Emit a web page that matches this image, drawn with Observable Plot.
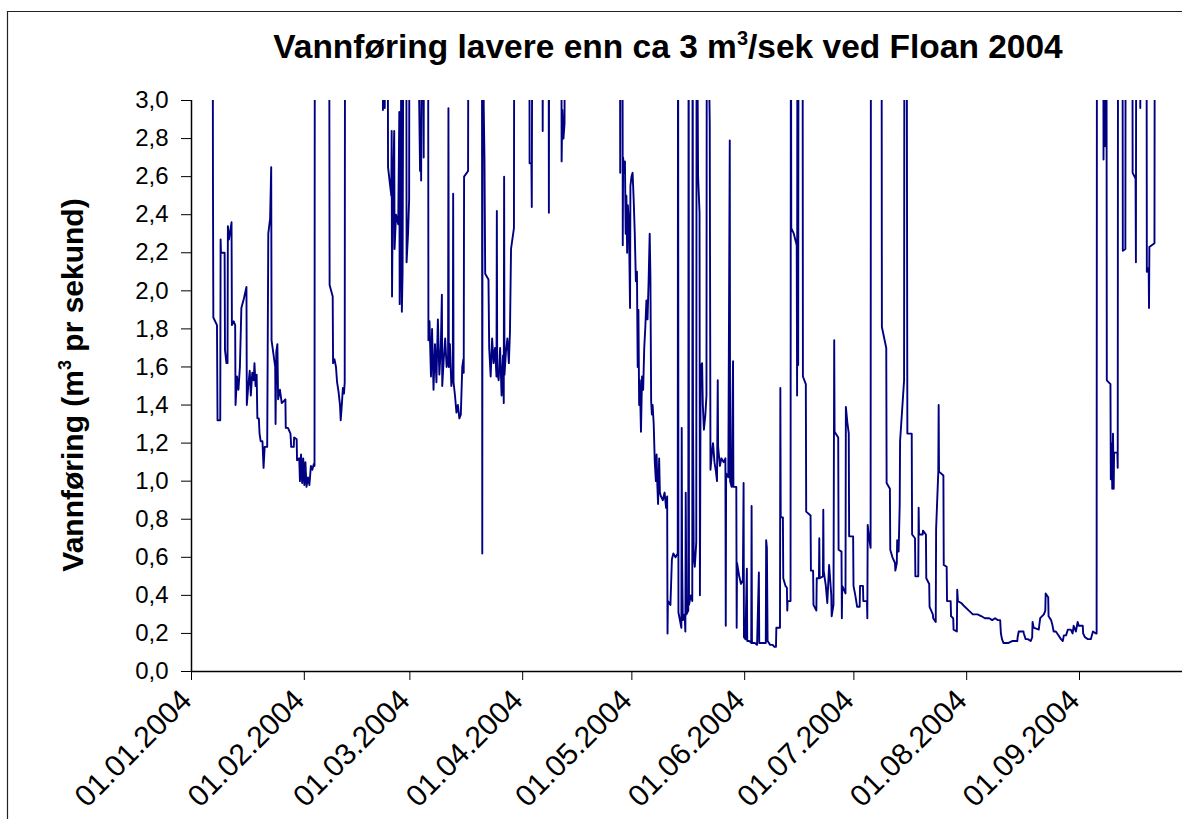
<!DOCTYPE html>
<html>
<head>
<meta charset="utf-8">
<script src="https://cdn.jsdelivr.net/npm/d3@7"></script>
<script src="https://cdn.jsdelivr.net/npm/@observablehq/plot@0.6"></script>
<style>
  html, body { margin: 0; padding: 0; background: #fff; }
  #wrap { position: relative; width: 1182px; height: 819px; overflow: hidden; background: #fff; }
  #wrap > svg { position: absolute; left: 0; top: 0; }
  #overlay { pointer-events: none; }
</style>
</head>
<body>
<div id="wrap"></div>
<script>
// ---- data (day offset from 01.01.2004, flow in m3/s; values above 3 are clipped) ----
const days = [
  0, 5.8, 5.9, 6.0, 7.0, 7.15, 7.9, 8.0, 8.1, 9.1, 9.2, 9.6, 9.9, 10.0, 10.3, 11.0, 11.1, 11.6, 12.0, 12.1,
  12.5, 12.9, 13.3, 13.7, 14.4, 15.1, 15.2, 15.6, 16.0, 16.3, 16.7, 17.1, 17.3, 17.6, 17.9, 18.1, 18.5, 18.7, 19.0, 19.5,
  19.8, 20.1, 20.8, 21.1, 21.6, 21.9, 22.0, 23.0, 23.1, 23.3, 23.6, 23.8, 24.3, 24.8, 25.8, 25.9, 26.5, 27.2, 27.4, 28.1,
  28.2, 28.9, 29.0, 29.6, 29.8, 30.1, 30.4, 30.7, 31.0, 31.3, 31.6, 32.0, 32.4, 32.8, 33.2, 33.6, 33.8, 33.9,
  37.8, 37.95, 38.8, 38.9, 39.3, 39.7, 40.0, 40.4, 40.8, 41.0, 41.3, 41.6, 41.9, 42.1, 42.2,
  52.5, 52.6, 52.7, 53.0, 53.1, 53.2, 53.9, 54.0, 54.6, 54.9, 55.0, 55.1, 55.3, 55.7, 55.8, 56.2, 56.8, 57.1, 57.2, 57.5,
  57.7, 57.8, 58.0, 58.3, 59.0, 59.1, 59.5, 59.8, 59.9, 61.9, 62.8, 63.0, 63.1, 63.3, 63.8, 63.9,
  65.0, 65.1, 65.4, 65.8, 66.1, 66.5, 66.9, 67.3, 67.7, 68.1, 68.5, 68.8, 68.9, 69.3, 69.7, 70.1, 70.5, 70.6, 70.7, 71.0,
  71.4, 71.8, 71.9, 72.0, 72.4, 72.8, 73.2, 73.6, 74.0, 74.4, 74.7, 74.8, 74.9, 76.0, 76.1,
  79.8, 79.9, 80.0, 80.3, 80.5, 80.7, 81.6, 81.8, 82.2, 82.6, 83.0, 83.4, 83.8, 83.9, 84.0, 84.4, 84.8, 85.2, 85.6, 85.8,
  85.9, 86.0, 86.4, 86.8, 87.2, 87.5, 87.8, 88.6, 88.7,
  92.8, 92.9, 93.4, 93.5, 93.7, 96.4, 96.5, 96.6, 98.1, 98.2, 98.3, 101.6, 101.7, 101.9, 102.2, 102.5, 102.6,
  117.7, 117.8, 117.9, 118.4, 118.5, 118.6, 118.9, 119.1, 119.3, 119.5, 119.7, 119.9, 120.2, 120.5, 120.6, 120.9, 121.2, 121.5, 121.8, 122.1,
  122.4, 122.6, 122.8, 123.0, 123.2, 123.5, 123.8, 124.1, 124.4, 124.7, 125.0, 125.3, 125.6, 125.9, 126.1, 126.3, 126.5, 126.7, 127.0, 127.3,
  127.6, 127.8, 128.0, 128.2, 128.5, 128.7, 129.0, 129.5, 130.0, 130.4, 130.7, 130.8, 130.9, 131.6, 132.0, 132.4, 133.0, 133.6, 133.7, 133.8,
  134.6, 134.7, 134.8, 135.0, 135.5, 135.7, 135.8, 136.0, 136.5, 136.6, 136.7, 137.2, 137.6, 137.7, 137.8, 138.0, 138.3, 138.7, 138.8, 139.2,
  139.6, 139.7, 139.9, 140.3, 140.5, 140.8, 141.2, 141.5, 141.6, 142.4, 142.6, 143.0, 143.3, 143.7, 144.1, 144.4, 144.6, 144.7, 145.2, 145.6,
  146.2, 146.7, 146.8, 146.9, 147.5, 147.9, 148.0, 148.4, 148.8, 148.9, 149.7, 149.8, 149.9, 150.5, 151.0, 151.5, 151.7, 151.8, 152.2, 152.6,
  152.7, 153.3, 153.8, 153.9, 154.0, 154.8, 155.4, 155.9, 156.0, 157.0, 157.8, 157.9, 158.1, 158.3, 159.0, 159.7, 160.1, 160.6, 160.7, 161.7,
  161.8, 161.9, 162.5, 162.6, 163.2, 163.6, 163.7, 163.8, 164.6, 164.7, 164.8, 165.5, 166.3, 166.4, 166.5, 166.7, 166.8, 167.9, 168.0, 168.8,
  168.9, 170.1, 170.2, 170.8, 170.9, 171.7, 171.8, 172.4, 172.5, 172.6, 173.5, 173.6, 173.7, 174.3, 174.7, 175.2, 175.8, 175.9, 176.4, 176.6,
  176.7, 177.7, 177.8, 178.6, 178.7, 178.8, 179.7, 179.8, 180.2, 180.6, 180.7, 181.8, 181.9, 182.4, 182.9, 183.6, 183.7, 184.5, 184.6, 185.6,
  185.7, 185.8, 186.2, 186.6, 186.7,
  189.6, 189.7, 190.9, 191.0, 191.9, 192.0, 192.6, 193.3, 193.4, 193.8, 193.9, 194.3, 194.6, 194.7, 195.8, 195.9, 196.5, 196.6, 196.7, 197.9,
  198.0, 198.8, 198.9, 199.7, 199.8, 199.9, 200.9, 201.0, 201.8, 201.9, 202.7, 202.8, 203.7, 203.8, 204.5, 204.6, 205.2, 205.3, 205.4, 206.6,
  206.7, 207.5, 207.6, 208.6, 208.7, 209.3, 209.4, 210.3, 210.4, 210.6, 211.5, 212.5, 213.6, 214.7, 216.0, 217.1, 218.0, 219.2, 220.0, 220.8,
  221.5, 222.2, 222.4, 222.7, 223.1, 224.5, 225.5, 226.9, 227.0, 227.3, 228.6, 228.7, 229.2, 229.8, 230.6, 231.0, 231.1, 231.4, 232.8, 233.2,
  234.2, 234.6, 234.7, 235.4, 235.5, 236.2, 236.6, 236.9, 237.5, 238.2, 238.9, 239.4, 239.7, 240.3, 240.8, 241.6, 242.1, 242.4, 243.0, 243.5,
  243.8, 244.9, 245.0, 245.5, 246.3, 247.1, 247.7, 248.5, 248.7, 248.8,
  250.5, 250.6, 250.7, 251.1, 251.3, 251.4, 251.5, 252.5, 252.6, 252.8, 253.0, 253.2, 253.4, 253.5, 254.4, 254.5, 254.6, 255.8, 255.9, 256.6,
  256.7, 258.5, 258.6, 259.4, 259.5, 259.6, 260.6, 260.7, 260.8, 262.4, 262.5, 263.0, 263.1, 263.2, 264.6, 264.7, 272.3
];
const flow = [
  4, 4, 2.56, 1.86, 1.82, 1.32, 1.32, 2.27, 2.20, 2.20, 1.69, 1.62, 1.62, 2.34, 2.27, 2.36, 1.82, 1.84, 1.82, 1.40,
  1.55, 1.48, 1.60, 1.91, 1.96, 2.02, 1.40, 1.50, 1.58, 1.45, 1.57, 1.53, 1.62, 1.50, 1.56, 1.33, 1.33, 1.25, 1.21, 1.21,
  1.07, 1.18, 1.18, 2.30, 2.38, 2.65, 1.74, 1.60, 1.30, 1.68, 1.72, 1.43, 1.48, 1.41, 1.43, 1.28, 1.28, 1.25, 1.18, 1.18,
  1.23, 1.22, 1.11, 1.12, 1.00, 1.14, 0.99, 1.12, 0.98, 1.10, 0.97, 1.02, 0.98, 1.08, 1.06, 1.09, 1.08, 4,
  4, 2.03, 1.97, 1.62, 1.64, 1.60, 1.52, 1.47, 1.40, 1.32, 1.40, 1.49, 1.46, 1.52, 4,
  4, 2.95, 4, 4, 2.96, 4, 4, 2.65, 2.55, 2.50, 2.84, 1.97, 2.45, 2.84, 2.22, 2.40, 2.35, 2.94, 1.93, 2.30,
  4, 1.89, 2.10, 4, 4, 2.15, 2.30, 2.48, 4, 4, 2.63, 2.90, 2.58, 4, 2.70, 4,
  4, 1.74, 1.84, 1.55, 1.80, 1.48, 1.72, 1.52, 1.85, 1.56, 1.70, 1.98, 1.50, 1.64, 1.75, 1.60, 1.66, 2.96, 1.60, 1.72,
  1.50, 1.58, 2.51, 1.52, 1.45, 1.36, 1.40, 1.33, 1.35, 1.60, 1.64, 1.57, 2.60, 2.63, 4,
  4, 0.62, 4, 2.96, 2.70, 2.09, 2.06, 1.70, 1.55, 1.75, 1.62, 1.70, 1.55, 2.42, 1.58, 1.53, 1.70, 1.45, 1.66, 1.41,
  2.60, 1.56, 1.68, 1.75, 1.62, 1.78, 2.22, 2.33, 4,
  4, 2.67, 2.67, 2.44, 4, 4, 2.84, 4, 4, 2.41, 4, 4, 2.68, 2.95, 2.80, 2.88, 4,
  4, 2.62, 4, 4, 2.24, 2.70, 2.62, 2.68, 2.30, 2.50, 2.20, 2.45, 2.35, 1.91, 2.55, 2.60, 2.62, 2.48, 2.30, 2.05,
  2.10, 1.60, 1.90, 1.40, 1.53, 1.26, 1.55, 1.48, 1.70, 1.81, 1.95, 1.85, 2.05, 2.30, 2.07, 1.42, 1.35, 1.40, 1.30, 1.10,
  1.00, 1.14, 0.98, 0.88, 1.12, 0.94, 0.92, 0.90, 0.94, 0.86, 0.92, 0.20, 0.37, 0.35, 0.59, 0.62, 0.60, 0.62, 4, 0.31,
  0.23, 1.28, 0.60, 0.27, 0.30, 0.21, 0.94, 0.30, 0.32, 4, 0.35, 0.40, 0.37, 4, 1.32, 0.60, 0.55, 0.68, 4, 2.60,
  2.41, 0.40, 1.60, 1.62, 1.40, 1.27, 1.35, 1.45, 4, 2.88, 1.06, 1.15, 1.20, 1.10, 1.05, 1.00, 1.53, 1.18, 1.08, 1.12,
  1.10, 1.12, 0.24, 1.04, 1.02, 2.79, 1.00, 0.97, 1.63, 0.97, 0.97, 0.23, 0.57, 0.50, 0.46, 0.48, 0.99, 0.18, 0.17, 0.54,
  0.16, 0.16, 0.15, 0.87, 0.15, 0.15, 0.14, 0.52, 0.15, 0.15, 0.15, 0.69, 0.65, 0.16, 0.14, 0.14, 0.13, 0.13, 0.23, 0.23,
  1.49, 0.81, 0.81, 0.49, 0.45, 0.44, 0.32, 0.37, 0.37, 4, 2.33, 2.30, 2.24, 1.45, 4, 1.61, 4, 4, 1.55, 1.51,
  0.84, 0.82, 0.53, 0.53, 0.35, 0.32, 0.49, 0.49, 0.70, 0.49, 0.50, 0.85, 0.53, 0.45, 0.36, 0.56, 0.40, 0.29, 0.35, 1.74,
  1.26, 1.23, 0.64, 0.63, 0.28, 0.45, 0.41, 1.39, 1.31, 1.25, 0.71, 0.71, 0.45, 0.40, 0.34, 0.34, 0.45, 0.45, 0.37, 0.37,
  0.28, 0.77, 0.70, 0.65, 4,
  4, 1.81, 1.70, 0.99, 0.96, 0.64, 0.60, 0.57, 0.53, 0.57, 0.69, 0.63, 0.88, 1.21, 1.53, 4, 4, 2.51, 1.25, 1.25,
  0.72, 0.70, 0.50, 0.50, 0.86, 0.72, 0.72, 0.74, 0.72, 0.49, 0.46, 0.34, 0.30, 0.28, 0.26, 0.75, 1.05, 1.40, 1.05, 1.03,
  0.56, 0.55, 0.37, 0.37, 0.29, 0.28, 0.22, 0.21, 0.43, 0.37, 0.36, 0.34, 0.32, 0.30, 0.30, 0.29, 0.28, 0.28, 0.27, 0.28,
  0.27, 0.27, 0.20, 0.17, 0.15, 0.15, 0.16, 0.16, 0.18, 0.21, 0.21, 0.20, 0.17, 0.17, 0.16, 0.18, 0.26, 0.23, 0.22, 0.28,
  0.30, 0.32, 0.41, 0.39, 0.29, 0.27, 0.24, 0.21, 0.21, 0.19, 0.17, 0.16, 0.19, 0.19, 0.22, 0.22, 0.20, 0.24, 0.21, 0.26,
  0.24, 0.24, 0.20, 0.18, 0.17, 0.17, 0.21, 0.20, 0.20, 4,
  4, 2.69, 4, 2.76, 2.83, 4, 1.53, 1.51, 1.01, 1.20, 0.96, 1.25, 0.96, 1.15, 1.15, 1.07, 4, 4, 2.21, 2.22,
  4, 4, 2.62, 2.59, 2.15, 4, 4, 2.96, 4, 4, 2.10, 2.12, 1.91, 2.23, 2.25, 4, 4
];
const tickLabels = ["01.01.2004", "01.02.2004", "01.03.2004", "01.04.2004", "01.05.2004",
                    "01.06.2004", "01.07.2004", "01.08.2004", "01.09.2004"];
const yTicks = [0, 0.2, 0.4, 0.6, 0.8, 1.0, 1.2, 1.4, 1.6, 1.8, 2.0, 2.2, 2.4, 2.6, 2.8, 3.0];
const titleText = ["Vannføring lavere enn ca 3 m", "3", "/sek ved Floan 2004"];
const yTitleText = ["Vannføring (m", "3", " pr sekund)"];

// ---- build ----
const DAY = 864e5;
const t0 = Date.UTC(2004, 0, 1);
const series = days.map((d, i) => ({date: new Date(t0 + d * DAY), v: flow[i]}));
const tickDates = tickLabels.map(s => { const [dd, mm, yy] = s.split("."); return new Date(Date.UTC(+yy, +mm - 1, +dd)); });
const labelOf = new Map(tickDates.map((d, i) => [+d, tickLabels[i]]));
const FONT = "'Liberation Sans', Arial, Helvetica, sans-serif";

const chart = Plot.plot({
  width: 1182,
  height: 819,
  marginLeft: 191,
  marginRight: 0,
  marginTop: 100,
  marginBottom: 148,
  style: {background: "transparent", fontFamily: FONT, color: "#000", overflow: "visible"},
  x: {type: "utc", domain: [new Date(t0), new Date(t0 + 272.3 * DAY)], axis: null},
  y: {domain: [0, 3], axis: null},
  marks: [
    Plot.line(series, {x: "date", y: "v", stroke: "#000080", strokeWidth: 1.9, clip: true}),
    Plot.axisY({ticks: yTicks, tickFormat: d => d.toFixed(1).replace(".", ","), tickSize: 10, tickPadding: 13,
                fontSize: 24, stroke: "#000", label: null}),
    Plot.axisX({ticks: tickDates, tickSize: 9, tickFormat: () => "", stroke: "#000", label: null}),
    Plot.text(tickDates, {x: d => d, frameAnchor: "bottom", text: d => labelOf.get(+d), rotate: -45,
                          textAnchor: "end", lineAnchor: "middle", dx: -5, dy: 24, fontSize: 30, fill: "#000"}),
    Plot.ruleX([new Date(t0)], {stroke: "#000", strokeWidth: 1.5}),
    Plot.ruleY([0], {stroke: "#000", strokeWidth: 1.5})
  ]
});
document.getElementById("wrap").appendChild(chart);

// ---- overlay: frame, title, y axis title ----
const ov = d3.select("#wrap").append("svg").attr("id", "overlay")
  .attr("width", 1182).attr("height", 819).style("font-family", FONT);
ov.append("path").attr("d", "M7.5,1300V11.5H1300").attr("fill", "none").attr("stroke", "#222").attr("stroke-width", 1.2);
const tt = ov.append("text").attr("x", 668).attr("y", 58).attr("text-anchor", "middle")
  .attr("font-size", 33.5).attr("font-weight", "bold").attr("fill", "#000");
tt.append("tspan").text(titleText[0]);
tt.append("tspan").attr("dy", -13).attr("font-size", 20).text(titleText[1]);
tt.append("tspan").attr("dy", 13).text(titleText[2]);
const yt = ov.append("text").attr("transform", "translate(83,385) rotate(-90)").attr("text-anchor", "middle")
  .attr("font-size", 30).attr("font-weight", "bold").attr("fill", "#000");
yt.append("tspan").text(yTitleText[0]);
yt.append("tspan").attr("dy", -12).attr("font-size", 18).text(yTitleText[1]);
yt.append("tspan").attr("dy", 12).text(yTitleText[2]);
</script>
</body>
</html>
